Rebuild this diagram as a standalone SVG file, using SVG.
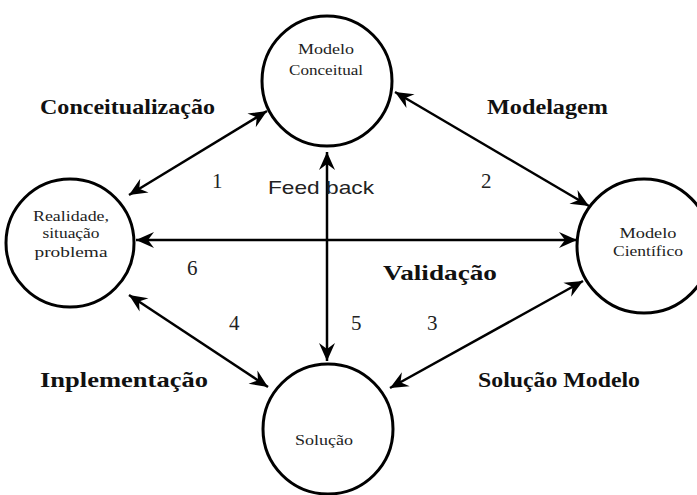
<svg xmlns="http://www.w3.org/2000/svg" width="697" height="495" viewBox="0 0 697 495">
<defs>
<style>
.node{fill:#fff;stroke:#000;stroke-width:3}
.nl{font-family:'Liberation Serif','Times New Roman',Times,serif;font-size:15px;fill:#222;text-anchor:middle}
.lab{font-family:'Liberation Serif','Times New Roman',Times,serif;font-size:21px;font-weight:bold;fill:#111}
.num{font-family:'Liberation Serif','Times New Roman',Times,serif;font-size:21px;fill:#222}
.fb{font-family:'Liberation Sans',Arial,sans-serif;font-size:19px;fill:#222}
.con{stroke:#000;stroke-width:2.5;fill:none;marker-start:url(#ah);marker-end:url(#ah)}
</style>
<marker id="ah" viewBox="-19 -9 21 18" markerWidth="21" markerHeight="18" refX="0" refY="0" orient="auto-start-reverse" markerUnits="userSpaceOnUse">
<path d="M0,0 L-18,-8 L-12,0 L-18,8 Z" fill="#000"/>
</marker>
</defs>
<rect width="697" height="495" fill="#fff"/>
<g id="n-conceitual"><circle class="node" cx="327" cy="81" r="65"/><text class="nl" x="326" y="54" textLength="56" lengthAdjust="spacingAndGlyphs">Modelo</text><text class="nl" x="326" y="75" textLength="74" lengthAdjust="spacingAndGlyphs">Conceitual</text></g>
<g id="n-realidade"><circle class="node" cx="70" cy="243" r="64"/><text class="nl" x="71" y="221" textLength="76" lengthAdjust="spacingAndGlyphs">Realidade,</text><text class="nl" x="71" y="238" textLength="57" lengthAdjust="spacingAndGlyphs">situação</text><text class="nl" x="71" y="257" textLength="73" lengthAdjust="spacingAndGlyphs">problema</text></g>
<g id="n-cientifico"><circle class="node" cx="644" cy="246" r="67"/><text class="nl" x="648" y="238" textLength="57" lengthAdjust="spacingAndGlyphs">Modelo</text><text class="nl" x="648" y="256" textLength="70" lengthAdjust="spacingAndGlyphs">Científico</text></g>
<g id="n-solucao"><circle class="node" cx="328" cy="429" r="65"/><text class="nl" x="324" y="445" textLength="58" lengthAdjust="spacingAndGlyphs">Solução</text></g>
<g id="connectors">
<line class="con" x1="129" y1="195" x2="267" y2="111"/>
<line class="con" x1="395" y1="92" x2="589" y2="206"/>
<line class="con" x1="136" y1="240" x2="577" y2="240"/>
<line class="con" x1="327" y1="152" x2="327" y2="361"/>
<line class="con" x1="129" y1="295" x2="268" y2="387"/>
<line class="con" x1="583" y1="281" x2="390" y2="388"/>
</g>
<g id="labels">
<text class="lab" x="40" y="114" textLength="175" lengthAdjust="spacingAndGlyphs">Conceitualização</text>
<text class="lab" x="487" y="114" textLength="121" lengthAdjust="spacingAndGlyphs">Modelagem</text>
<text class="lab" x="383" y="280" font-size="23" textLength="114" lengthAdjust="spacingAndGlyphs">Validação</text>
<text class="lab" x="40" y="387" textLength="168" lengthAdjust="spacingAndGlyphs">Inplementação</text>
<text class="lab" x="478" y="387" textLength="162" lengthAdjust="spacingAndGlyphs">Solução Modelo</text>
<text class="fb" x="268" y="194" textLength="106" lengthAdjust="spacingAndGlyphs">Feed back</text>
<text class="num" x="212" y="188">1</text>
<text class="num" x="481" y="188">2</text>
<text class="num" x="187" y="275">6</text>
<text class="num" x="229" y="330">4</text>
<text class="num" x="351" y="330">5</text>
<text class="num" x="427" y="330">3</text>
</g>
</svg>
